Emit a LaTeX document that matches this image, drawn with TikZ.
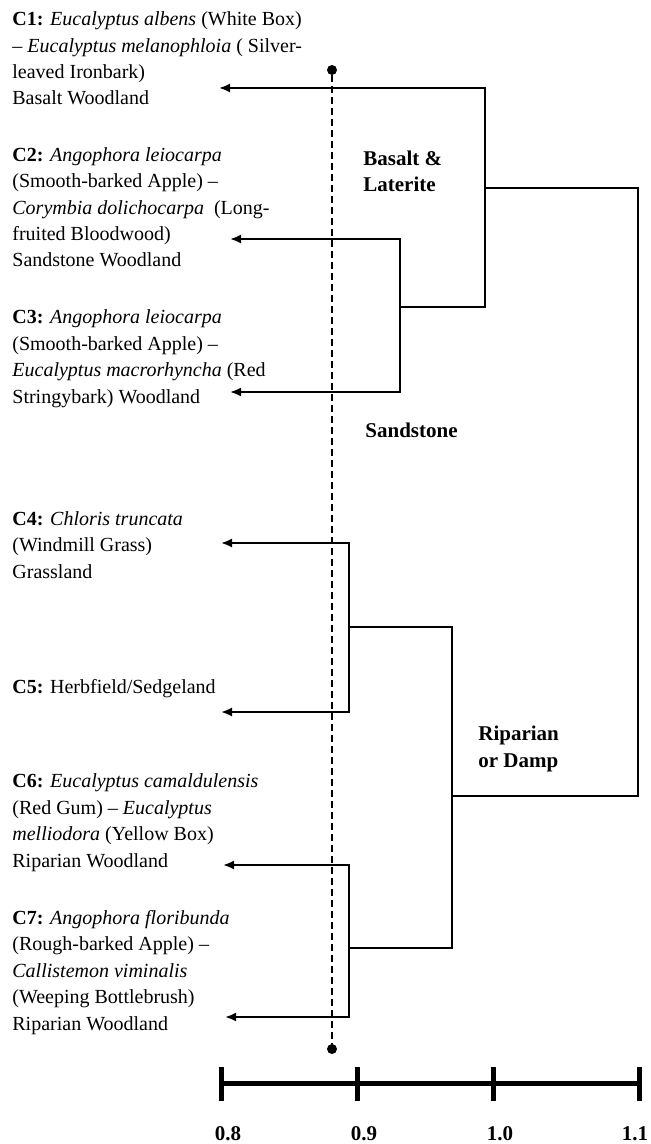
\documentclass[tikz,border=0pt]{standalone}
\usepackage{fontspec}
\setmainfont{Liberation Serif}
\usetikzlibrary{shapes,arrows.meta}
\tikzstyle{community} = [anchor=base west, align=left, inner sep=0pt,
    font=\fontsize{10}{13.2}\selectfont]
\tikzstyle{group} = [anchor=base west, align=left, inner sep=0pt,
    font=\fontsize{10.5}{13.4}\selectfont\bfseries]
\tikzstyle{link} = [draw, line width=1pt]
\tikzstyle{leaf} = [link, ->]
\tikzstyle{dot} = [circle, fill=black, inner sep=0pt, minimum size=5pt]
\tikzstyle{cutline} = [draw, line width=0.8pt, dash pattern=on 3.5pt off 2pt]
\tikzstyle{scalebar} = [draw, line width=2.5pt]
\tikzstyle{ticklabel} = [anchor=base, inner sep=0pt,
    font=\fontsize{10.5}{12}\selectfont\bfseries]

\begin{document}
\begin{tikzpicture}[x=0.5pt, y=-0.5pt, >={Latex[length=5.5pt,width=4.5pt]}]
\useasboundingbox (0,0) rectangle (650,1144);

% communities (placed by their last line)
\node [community] (c1) at (12,105) {\textbf{C1:} \textit{Eucalyptus albens} (White Box)\\
  – \textit{Eucalyptus melanophloia} ( Silver-\\ leaved Ironbark)\\ Basalt Woodland};
\node [community] (c2) at (12,267) {\textbf{C2:} \textit{Angophora leiocarpa}\\
  (Smooth-barked Apple) –\\ \textit{Corymbia dolichocarpa}\ \ (Long-\\
  fruited Bloodwood)\\ Sandstone Woodland};
\node [community] (c3) at (12,403) {\textbf{C3:} \textit{Angophora leiocarpa}\\
  (Smooth-barked Apple) –\\ \textit{Eucalyptus macrorhyncha} (Red\\
  Stringybark) Woodland};
\node [community] (c4) at (12,578) {\textbf{C4:} \textit{Chloris truncata}\\
  (Windmill Grass)\\ Grassland};
\node [community] (c5) at (12,693) {\textbf{C5:} Herbfield/Sedgeland};
\node [community] (c6) at (12,867) {\textbf{C6:} \textit{Eucalyptus camaldulensis}\\
  (Red Gum) – \textit{Eucalyptus}\\ \textit{melliodora} (Yellow Box)\\
  Riparian Woodland};
\node [community] (c7) at (12,1030) {\textbf{C7:} \textit{Angophora floribunda}\\
  (Rough-barked Apple) –\\ \textit{Callistemon viminalis}\\
  (Weeping Bottlebrush)\\ Riparian Woodland};

% groups
\node [group] (basalt) at (363,192) {Basalt \&\\ Laterite};
\node [group] (sandstone) at (365,437) {Sandstone};
\node [group] (riparian) at (478,767) {Riparian\\ or Damp};

% arrow ends
\coordinate (tip1) at (219,88);
\coordinate (tip2) at (230,239);
\coordinate (tip3) at (230,392);
\coordinate (tip4) at (221,543);
\coordinate (tip5) at (221,712);
\coordinate (tip6) at (223,865);
\coordinate (tip7) at (225,1017);

% joins
\coordinate (m23) at (400,307);
\coordinate (m123) at (485,188);
\coordinate (m45) at (349,627);
\coordinate (m67) at (349,948);
\coordinate (m4567) at (452,796);
\coordinate (root) at (638,492);

\draw [leaf] (m123) |- (tip1);
\draw [leaf] (m23) |- (tip2);
\draw [leaf] (m23) |- (tip3);
\draw [leaf] (m45) |- (tip4);
\draw [leaf] (m45) |- (tip5);
\draw [leaf] (m67) |- (tip6);
\draw [leaf] (m67) |- (tip7);
\draw [link] (m123) |- (m23);
\draw [link] (m4567) |- (m45);
\draw [link] (m4567) |- (m67);
\draw [link] (root) |- (m123);
\draw [link] (root) |- (m4567);

% cut level
\node [dot] (cuttop) at (332,70) {};
\node [dot] (cutbot) at (332,1049) {};
\draw [cutline] (cuttop) -- (cutbot);

% scale
\coordinate (s08) at (221,1083);
\coordinate (s11) at (639,1083);
\draw [scalebar] (s08) -- (s11);
\foreach \x/\lx/\v/\n in {221/228/0.8/l08, 357/364/0.9/l09, 493/500/1.0/l10, 639/635/1.1/l11} {
  \draw [scalebar] (\x,1067) -- (\x,1101);
  \node [ticklabel] (\n) at (\lx,1140) {\v};
}

\end{tikzpicture}
\end{document}
